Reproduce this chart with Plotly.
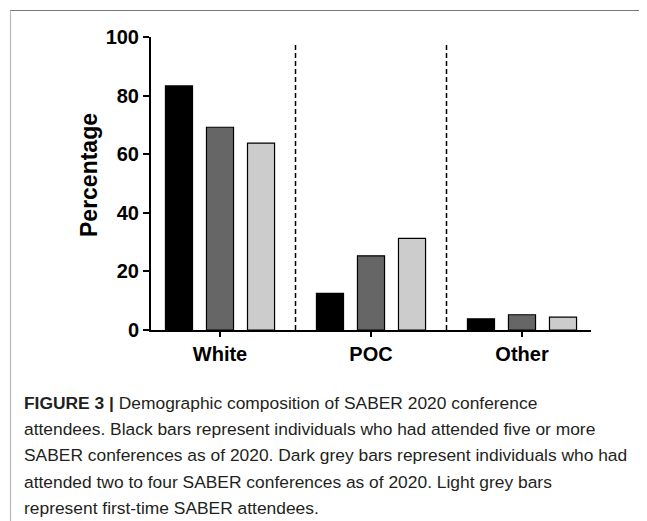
import plotly.graph_objects as go

categories = ["White", "POC", "Other"]
five_or_more = [83.3, 12.5, 3.8]
two_to_four = [69.2, 25.3, 5.2]
first_time = [63.8, 31.3, 4.4]
series_names = ["Five or more", "Two to four", "First-time"]
series_colors = ["#000000", "#666666", "#cccccc"]
y_ticks = [0, 20, 40, 60, 80, 100]
caption_lines = [
    "<b>FIGURE 3 |</b> Demographic composition of SABER 2020 conference",
    "attendees. Black bars represent individuals who had attended five or more",
    "SABER conferences as of 2020. Dark grey bars represent individuals who had",
    "attended two to four SABER conferences as of 2020. Light grey bars",
    "represent first-time SABER attendees.",
]

OFF = 8  # page offset of the plot div
W, H = 647, 521
# plot area in page pixels: x 151..591, y 37..330
L = 151 - OFF
T = 37 - OFF
R = W - (591 - OFF)
B = H - (330 - OFF)
pw, ph = W - L - R, H - T - B


def px(x):
    return (x - OFF - L) / pw


def py(y):
    return (H - B - (y - OFF)) / ph


fig = go.Figure()
for name, vals, col in zip(series_names, [five_or_more, two_to_four, first_time], series_colors):
    fig.add_trace(go.Bar(x=categories, y=vals, name=name,
                         marker=dict(color=col, line=dict(color="#000000", width=1.2))))

shapes = []
for xv in [0.5, 1.5]:
    shapes.append(dict(type="line", xref="x", yref="y", x0=xv, x1=xv, y0=0, y1=97.8,
                       line=dict(color="#000000", width=1.5, dash="5px,3px")))
# frame
shapes.append(dict(type="line", xref="paper", yref="paper", x0=px(10), x1=px(660),
                   y0=py(10.5), y1=py(10.5), line=dict(color="#777777", width=1.2)))
shapes.append(dict(type="line", xref="paper", yref="paper", x0=px(10.5), x1=px(10.5),
                   y0=py(10.5), y1=py(540), line=dict(color="#bbbbbb", width=1.2)))

annotations = [dict(text="<b>Percentage</b>", textangle=-90, xref="paper", yref="paper",
                    x=px(89), y=py(175), xanchor="center", yanchor="middle", showarrow=False,
                    font=dict(family="Liberation Sans, Arial", size=23, color="#000000"))]
for i, line in enumerate(caption_lines):
    annotations.append(dict(text=line, xref="paper", yref="paper", x=px(22), y=py(403 + 26.2 * i),
                            xanchor="left", yanchor="middle", showarrow=False,
                            font=dict(family="Liberation Sans, Arial", size=17.4, color="#231f20")))

fig.update_layout(
    width=W, height=H, margin=dict(l=L, r=R, t=T, b=B, pad=0),
    paper_bgcolor="#ffffff", plot_bgcolor="#ffffff",
    barmode="group", bargap=0.185, bargroupgap=0.34,
    showlegend=False, shapes=shapes, annotations=annotations,
    font=dict(family="Liberation Sans, Arial", color="#000000"),
    xaxis=dict(range=[-0.457, 2.457], showline=True, linecolor="#000000", linewidth=2,
               ticks="outside", ticklen=5, tickwidth=2, tickcolor="#000000",
               tickfont=dict(size=20, family="Liberation Sans, Arial", weight="bold"),
               showgrid=False, zeroline=False),
    yaxis=dict(range=[0, 100], tickvals=y_ticks, showline=True, linecolor="#000000", linewidth=2,
               ticks="outside", ticklen=6, tickwidth=2, tickcolor="#000000",
               tickfont=dict(size=20, family="Liberation Sans, Arial", weight="bold"),
               showgrid=False, zeroline=False),
)

fig.write_html("out.html")
